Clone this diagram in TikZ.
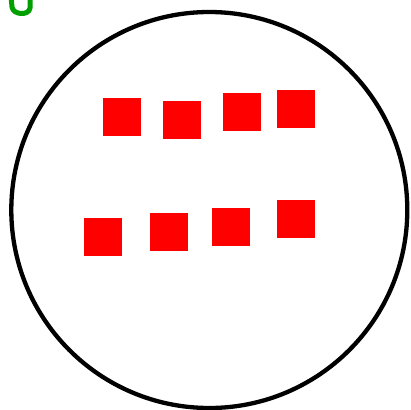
\documentclass[tikz,border=0pt]{standalone}
\begin{document}
\begin{tikzpicture}[x=1pt,y=-1pt,
  sq/.style={fill=red,draw=none,minimum size=38pt,inner sep=0pt,anchor=north west},
  ring/.style={draw=black,line width=4.3pt},
  scribble/.style={draw={rgb,255:red,0;green,160;blue,0},line width=5pt,line cap=round}]
\useasboundingbox (0,0) rectangle (411,409);
\clip (0,0) rectangle (411,409);
\draw[ring] (209.3,210) circle[radius=198];
\node[sq] (s1) at (103,98) {};
\node[sq] (s2) at (163,101) {};
\node[sq] (s3) at (223,93) {};
\node[sq] (s4) at (277,89.5) {};
\node[sq] (s5) at (83.5,217.5) {};
\node[sq] (s6) at (150,213) {};
\node[sq] (s7) at (212,208) {};
\node[sq] (s8) at (277,199.5) {};
\draw[scribble] (11,-4) -- (12,7) .. controls (13,15) and (29,16) .. (30,8) -- (30,-4);
\end{tikzpicture}
\end{document}
